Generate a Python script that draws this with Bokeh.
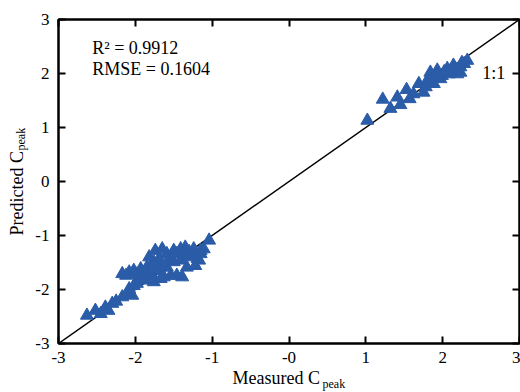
import math
from bokeh.plotting import figure
from bokeh.models import (Range1d, FixedTicker, LinearAxis, Label, Title,
                          CustomLabelingPolicy)
from bokeh.embed import file_html
from bokeh.resources import INLINE

# ---- data ----
measured = [
    -2.63, -2.52, -2.45, -2.39, -2.35, -2.30, -2.25, -2.17, -2.11, -2.04,
    -2.08, -2.02, -2.17, -2.08, -2.02, -1.93, -1.85, -1.95, -1.87, -1.78,
    -1.80, -1.72, -1.74, -1.65, -1.69, -1.59, -1.50, -1.41, -1.35, -1.24,
    -1.15, -1.04, -1.11, -1.19, -1.17, -1.33, -1.39, -1.46, -1.54, -1.63,
    -1.59, -1.50, -1.41, -1.33, -1.26, -1.46, -1.37, -1.67, -1.76, -1.85,
    -1.91, -1.98, -1.76, -1.67, -1.15, -1.22, -2.12, -1.98, -1.82, -1.57,
    -1.30,
    1.02, 1.22, 1.32, 1.41, 1.53, 1.57, 1.69, 1.75, 1.78, 1.80,
    1.84, 1.885, 1.93, 1.97, 1.99, 2.06, 2.08, 2.14, 2.19, 2.23,
    2.23, 2.28, 2.32, 1.45, 1.62, 1.90, 2.02, 2.10, 2.17, 2.25,
]
predicted = [
    -2.48, -2.39, -2.45, -2.33, -2.39, -2.26, -2.22, -2.14, -2.08, -2.11,
    -1.99, -1.93, -1.71, -1.68, -1.65, -1.62, -1.59, -1.77, -1.83, -1.74,
    -1.56, -1.65, -1.28, -1.25, -1.43, -1.34, -1.28, -1.25, -1.22, -1.25,
    -1.28, -1.09, -1.25, -1.43, -1.46, -1.59, -1.77, -1.74, -1.74, -1.77,
    -1.59, -1.49, -1.46, -1.40, -1.37, -1.34, -1.34, -1.59, -1.49, -1.68,
    -1.80, -1.89, -1.86, -1.80, -1.34, -1.56, -1.74, -1.72, -1.40, -1.45,
    -1.30,
    1.13, 1.52, 1.35, 1.56, 1.70, 1.53, 1.81, 1.65, 1.75, 1.87,
    2.02, 1.81, 2.06, 1.90, 1.96, 2.09, 1.99, 2.15, 1.99, 2.02,
    2.12, 2.18, 2.24, 1.42, 1.62, 1.95, 2.03, 2.05, 2.08, 2.20,
]
ticks = [-3, -2, -1, 0, 1, 2, 3]
x_tick_labels = ["-3", "-2", "-1", "-0", "1", "2", "3"]
y_tick_labels = ["-3", "-2", "-1", "0", "1", "2", "3"]
one_to_one = [-3, 3]
r2_text = "R\u00b2 = 0.9912"
rmse_text = "RMSE = 0.1604"
ratio_text = "1:1"
x_title, y_title, sub_title = "Measured C", "Predicted C", "peak"

FONT = "Liberation Serif"
BLUE = "#2b5ca8"

p = figure(width=520, height=392, output_backend="svg", toolbar_location=None,
           x_range=Range1d(-3, 3), y_range=Range1d(-3, 3),
           min_border_left=58, min_border_right=1, min_border_top=19,
           min_border_bottom=49)
p.grid.visible = False
p.background_fill_color = "white"
p.border_fill_color = "white"
p.outline_line_color = "black"
p.outline_line_width = 2

hide_all = CustomLabelingPolicy(code="for (const i of indices) { indices.unset(i) } return indices")


def style(ax, labels=None, standoff=8):
    ax.ticker = FixedTicker(ticks=ticks)
    ax.major_tick_in = 7
    ax.major_tick_out = 0
    ax.minor_tick_line_color = None
    ax.axis_line_color = "black"
    ax.axis_line_width = 2
    ax.major_tick_line_width = 2
    ax.major_tick_line_color = "black"
    ax.major_label_text_font = FONT
    ax.major_label_text_color = "black"
    ax.major_label_text_font_size = "17px"
    if labels is not None:
        ax.major_label_overrides = dict(zip(ticks, labels))
        ax.major_label_standoff = standoff
    else:
        # tick marks only: empty labels that take no room and are not drawn
        ax.major_label_overrides = {t: "" for t in ticks}
        ax.major_label_policy = hide_all
        ax.major_label_standoff = 0


style(p.xaxis[0], x_tick_labels, 8)
style(p.yaxis[0], y_tick_labels, 9)

top = LinearAxis()
style(top)
p.add_layout(top, "above")
right = LinearAxis()
style(right)
p.add_layout(right, "right")

p.line(one_to_one, one_to_one, line_color="black", line_width=1.5)
p.scatter(measured, predicted, marker="triangle", size=13,
          fill_color=BLUE, line_color=BLUE)

# annotations
for txt, xx, yy in [(r2_text, -2.56, 2.47), (rmse_text, -2.56, 2.087),
                    (ratio_text, 2.515, 2.006)]:
    p.add_layout(Label(x=xx, y=yy, text=txt, text_font=FONT,
                       text_font_size="18px", text_baseline="alphabetic",
                       text_color="black"))

# axis titles with subscripts (as titles in the side panels)
p.add_layout(Title(text=x_title, align="left", offset=174, standoff=0,
                   text_font=FONT, text_font_size="18px",
                   text_font_style="normal", text_color="black"), "below")
p.add_layout(Title(text=sub_title, align="left", offset=264, standoff=-21,
                   vertical_align="top",
                   text_font=FONT, text_font_size="12px",
                   text_font_style="normal", text_color="black"), "below")
p.add_layout(Title(text=sub_title, align="left", offset=193, standoff=9,
                   text_font=FONT, text_font_size="12px",
                   text_font_style="normal", text_color="black"), "left")
p.add_layout(Title(text=y_title, align="left", offset=108, standoff=-39,
                   text_font=FONT, text_font_size="18px",
                   text_font_style="normal", text_color="black"), "left")

open("out.html", "w").write(file_html(p, INLINE))
